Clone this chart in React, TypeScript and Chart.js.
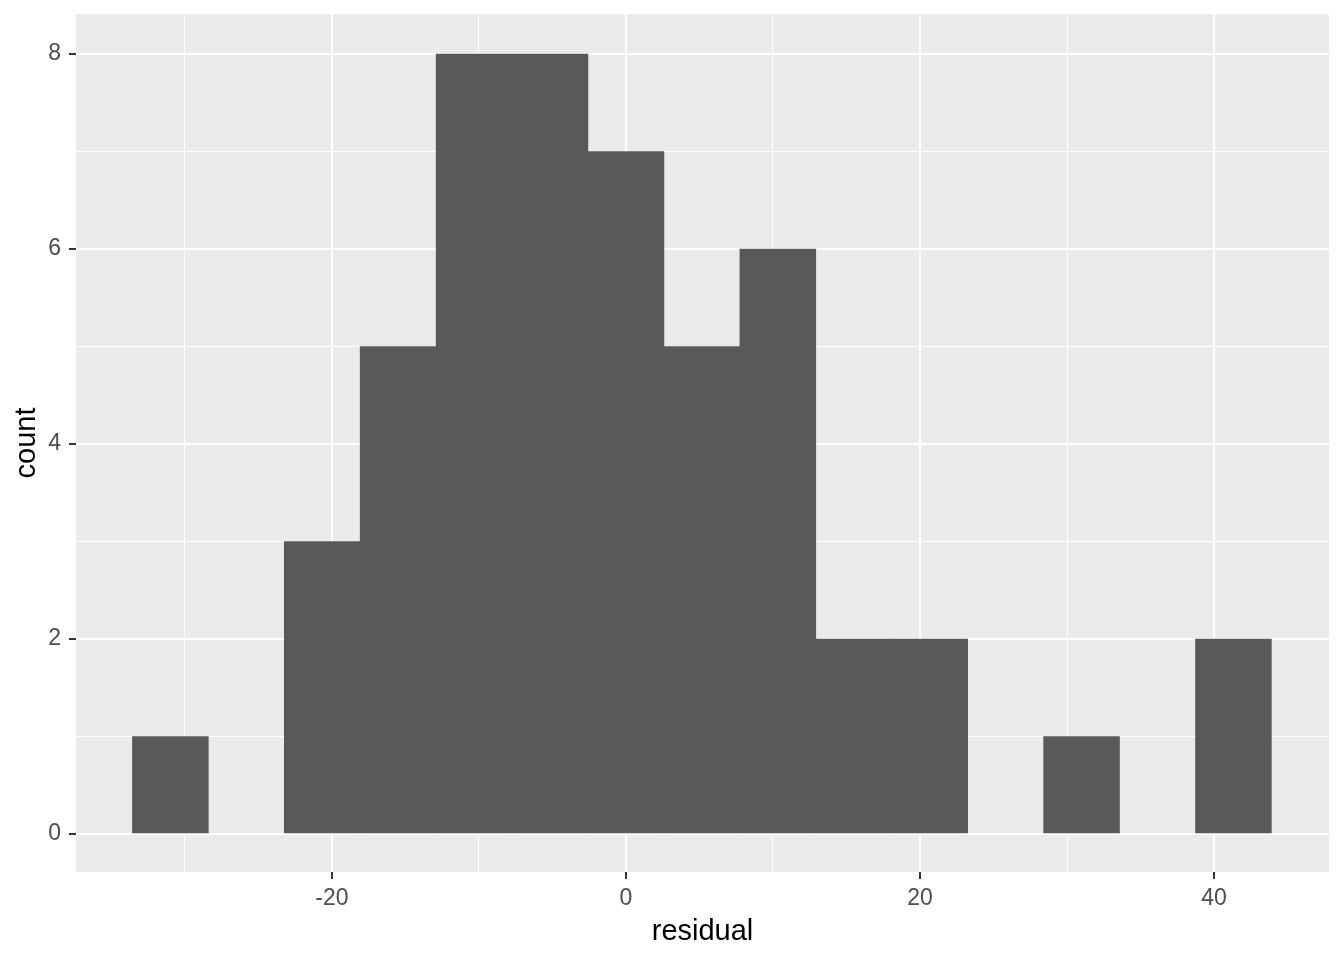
import React, { useEffect, useRef } from "react";
import { Chart, registerables } from "chart.js";

Chart.register(...registerables);

const binCenters = [-30.99, -25.83, -20.66, -15.5, -10.33, -5.17, 0, 5.17, 10.33, 15.5, 20.66, 25.83, 30.99, 36.16, 41.32];
const counts = [1, 0, 3, 5, 8, 8, 7, 5, 6, 2, 2, 0, 1, 0, 2];
const xTicks = [-30, -20, -10, 0, 10, 20, 30, 40];
const xLabelTicks = [-20, 0, 20, 40];
const yTicks = [0, 1, 2, 3, 4, 5, 6, 7, 8];
const yLabelTicks = [0, 2, 4, 6, 8];
const xTitle = "residual";
const yTitle = "count";

const FONT = "'Liberation Sans', Arial, sans-serif";

const panelBg = {
  id: "panelBg",
  beforeDraw(chart: any) {
    const { ctx, chartArea } = chart;
    ctx.save();
    ctx.fillStyle = "#EBEBEB";
    ctx.fillRect(chartArea.left, chartArea.top, chartArea.right - chartArea.left, chartArea.bottom - chartArea.top);
    ctx.restore();
  },
};

export default function App() {
  const ref = useRef<HTMLCanvasElement | null>(null);
  useEffect(() => {
    if (!ref.current) return;
    const isMajorX = (v: number) => xLabelTicks.includes(v);
    const isMajorY = (v: number) => yLabelTicks.includes(v);
    const chart = new Chart(ref.current, {
      type: "bar",
      data: {
        datasets: [
          {
            data: binCenters.map((x, i) => ({ x, y: counts[i] })),
            backgroundColor: (c: any) => (c.raw && c.raw.y === 0 ? "rgba(0,0,0,0)" : "#595959"),
            borderWidth: 0,
            barPercentage: 1,
            categoryPercentage: 1,
          },
        ],
      },
      options: {
        animation: false,
        responsive: false,
        maintainAspectRatio: false,
        layout: { padding: { top: 14, right: 15, left: 0, bottom: 0 } },
        plugins: { legend: { display: false }, tooltip: { enabled: false } },
        scales: {
          x: {
            type: "linear",
            min: -37.41,
            max: 47.82,
            offset: false,
            afterBuildTicks: (s: any) => {
              s.ticks = xTicks.map((v) => ({ value: v }));
            },
            afterFit: (s: any) => {
              s.height = 88;
              s.paddingLeft = 0;
              s.paddingRight = 0;
            },
            border: { display: false },
            grid: {
              offset: false,
              color: "#FFFFFF",
              lineWidth: (c: any) => (isMajorX(c.tick?.value) ? 2 : 1),
              drawTicks: true,
              tickLength: 7,
              tickWidth: 2,
              tickColor: (c: any) => (isMajorX(c.tick?.value) ? "#333333" : "rgba(0,0,0,0)"),
            },
            ticks: {
              autoSkip: false,
              maxRotation: 0,
              padding: 6,
              color: "#4D4D4D",
              font: { family: FONT, size: 23 },
              callback: (v: any) => (isMajorX(Number(v)) ? String(v) : ""),
            },
            title: {
              display: true,
              text: xTitle,
              color: "#000000",
              font: { family: FONT, size: 29 },
              padding: { top: 0, bottom: 11 },
            },
          },
          y: {
            type: "linear",
            min: -0.39,
            max: 8.41,
            afterBuildTicks: (s: any) => {
              s.ticks = yTicks.map((v) => ({ value: v }));
            },
            afterFit: (s: any) => {
              s.width = 76;
              s.paddingTop = 0;
              s.paddingBottom = 0;
            },
            border: { display: false },
            grid: {
              color: "#FFFFFF",
              lineWidth: (c: any) => (isMajorY(c.tick?.value) ? 2 : 1),
              drawTicks: true,
              tickLength: 7,
              tickWidth: 2,
              tickColor: (c: any) => (isMajorY(c.tick?.value) ? "#333333" : "rgba(0,0,0,0)"),
            },
            ticks: {
              autoSkip: false,
              padding: 8,
              color: "#4D4D4D",
              font: { family: FONT, size: 23 },
              callback: (v: any) => (isMajorY(Number(v)) ? String(v) : ""),
            },
            title: {
              display: true,
              text: yTitle,
              color: "#000000",
              font: { family: FONT, size: 29 },
              padding: { top: 10, bottom: 0 },
            },
          },
        },
      },
      plugins: [panelBg],
    } as any);
    return () => chart.destroy();
  }, []);
  return (
    <div style={{ position: "fixed", left: 0, top: 0, width: 1344, height: 960, background: "#FFFFFF" }}>
      <canvas ref={ref} width={1344} height={960} style={{ display: "block", width: 1344, height: 960 }} />
    </div>
  );
}
